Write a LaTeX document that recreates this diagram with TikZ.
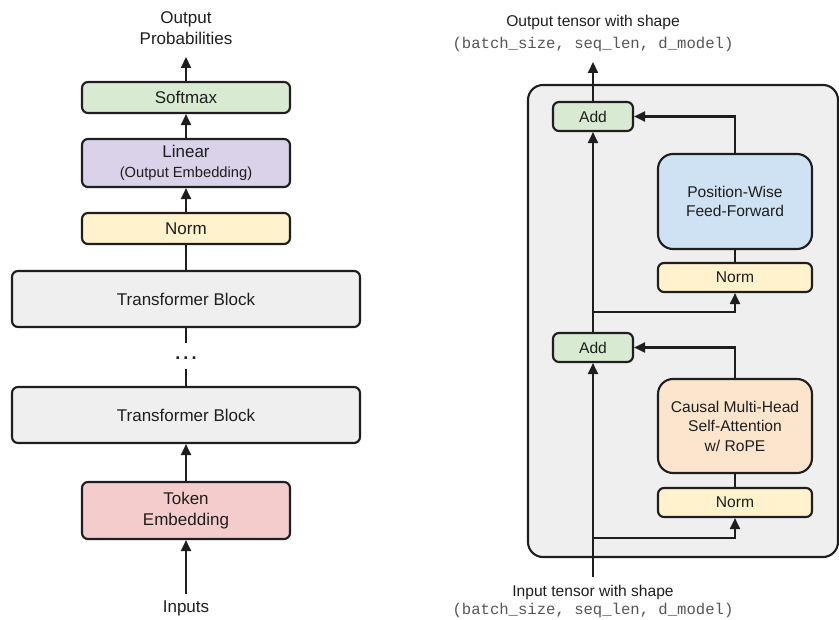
\documentclass[tikz,border=0pt]{standalone}
\usepackage{fontspec}
\setmainfont{Liberation Sans}
\setmonofont{Liberation Mono}
\usetikzlibrary{arrows.meta,positioning}
\definecolor{cgreen}{HTML}{D9EAD3}
\definecolor{cpurple}{HTML}{D9D2E9}
\definecolor{cyellow}{HTML}{FFF2CC}
\definecolor{cgray}{HTML}{EFEFEF}
\definecolor{cpink}{HTML}{F4CCCC}
\definecolor{cblue}{HTML}{CFE2F3}
\definecolor{corange}{HTML}{FCE5CD}
\definecolor{cline}{HTML}{1E1E1E}
\definecolor{cmono}{HTML}{555555}
\tikzset{
  blk/.style={draw=cline, line width=2.1pt, rounded corners=6pt, inner sep=0pt, align=center, text=cline},
  bigblk/.style={blk, rounded corners=15pt},
  lfont/.style={font=\fontsize{17}{21}\selectfont},
  rfont/.style={font=\fontsize{15.6}{19.5}\selectfont},
  conn/.style={draw=cline, line width=2.1pt},
  arr/.style={conn, -{Triangle[length=11pt,width=10pt]}},
  lbl/.style={inner sep=0pt, align=center, text=cline}
}
\begin{document}
\begin{tikzpicture}[x=1pt,y=-1pt]
\useasboundingbox (0,0) rectangle (839,620);
\clip (0,0) rectangle (839,620);
% ---------- left column ----------
\node[lbl,lfont] (outp) at (186,28) {Output\\Probabilities};
\node[blk,lfont,fill=cgreen,minimum width=208pt,minimum height=31pt] (soft) at (186,97.5) {Softmax};
\node[blk,font=\fontsize{17}{19.5}\selectfont,fill=cpurple,minimum width=208pt,minimum height=48pt] (lin) at (186,163)
  {Linear\\{\fontsize{14.7}{19.5}\selectfont (Output Embedding)}};
\node[blk,lfont,fill=cyellow,minimum width=208pt,minimum height=31pt] (lnorm) at (186,228.5) {Norm};
\node[blk,lfont,fill=cgray,minimum width=348pt,minimum height=56pt] (tb1) at (186,299) {Transformer Block};
\node[lbl,lfont,anchor=base,font=\fontsize{18}{18}\selectfont\bfseries] (dots) at (186,360) {.\kern3pt.\kern3pt.};
\node[blk,lfont,fill=cgray,minimum width=348pt,minimum height=56pt] (tb2) at (186,415) {Transformer Block};
\node[blk,lfont,fill=cpink,minimum width=208pt,minimum height=57pt] (tok) at (186,510.5) {Token\\Embedding};
\node[lbl,lfont] (inp) at (186,608) {Inputs};
\coordinate (outtip) at (186,57);
\coordinate (inbase) at (186,594);
\coordinate (d1) at (186,343);
\coordinate (d2) at (186,369);
\draw[arr] (soft.north) -- (outtip);
\draw[arr] (lin.north) -- (soft.south);
\draw[arr] (lnorm.north) -- (lin.south);
\draw[conn] (tb1.north) -- (lnorm.south);
\draw[conn] (tb1.south) -- (d1);
\draw[conn] (d2) -- (tb2.north);
\draw[arr] (tok.north) -- (tb2.south);
\draw[arr] (inbase) -- (tok.south);
% ---------- right column ----------
\node[draw=cline, line width=2.1pt, fill=cgray, rounded corners=15pt, inner sep=0pt,
  minimum width=310pt, minimum height=472pt] (outer) at (683,321) {};
\node[lbl,rfont] (otxt) at (593,22) {Output tensor with shape};
\node[lbl,font=\fontsize{15.6}{18}\ttfamily,text=cmono] (omono) at (593,44) {(batch\_size, seq\_len, d\_model)};
\node[lbl,rfont] (itxt) at (593,592) {Input tensor with shape};
\node[lbl,font=\fontsize{15.6}{18}\ttfamily,text=cmono] (imono) at (593,610) {(batch\_size, seq\_len, d\_model)};
\node[blk,rfont,fill=cgreen,minimum width=80pt,minimum height=29pt] (add1) at (593,116.5) {Add};
\node[bigblk,rfont,fill=cblue,minimum width=154pt,minimum height=95pt] (ffn) at (735,201.5) {Position-Wise\\Feed-Forward};
\node[blk,rfont,fill=cyellow,minimum width=154pt,minimum height=29pt] (norm1) at (735,277.5) {Norm};
\node[blk,rfont,fill=cgreen,minimum width=80pt,minimum height=29pt] (add2) at (593,347.5) {Add};
\node[bigblk,rfont,fill=corange,minimum width=154pt,minimum height=94pt] (attn) at (735,426) {Causal Multi-Head\\Self-Attention\\w/ RoPE};
\node[blk,rfont,fill=cyellow,minimum width=154pt,minimum height=29pt] (norm2) at (735,502.5) {Norm};
\coordinate (rin) at (593,577);
\coordinate (rout) at (593,62);
\coordinate (br2) at (593,538);
\coordinate (br1) at (593,312);
\draw[arr] (rin) -- (add2.south);
\draw[arr] (add2.north) -- (add1.south);
\draw[arr] (add1.north) -- (rout);
\draw[arr] (br2) -| (norm2.south);
\draw[arr] (br1) -| (norm1.south);
\draw[conn] (norm2.north) -- (attn.south);
\draw[conn] (norm1.north) -- (ffn.south);
\draw[arr] (attn.north) |- (add2.east);
\draw[arr] (ffn.north) |- (add1.east);
\end{tikzpicture}
\end{document}
